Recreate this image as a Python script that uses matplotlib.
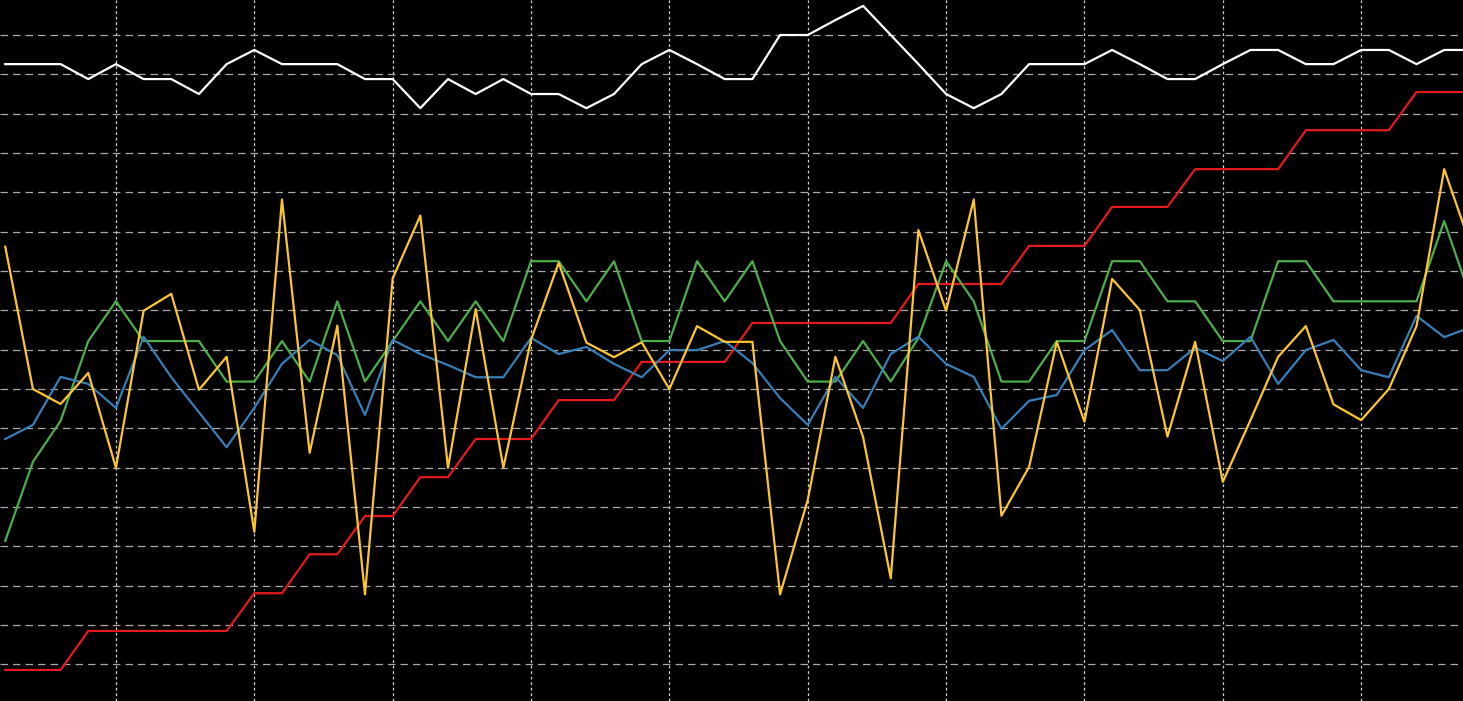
import matplotlib
matplotlib.use("Agg")
import matplotlib.pyplot as plt
import numpy as np

days = list(range(1, 55))

white = [15.26, 15.26, 15.26, 14.88, 15.26, 14.88, 14.88, 14.50, 15.26, 15.62,
         15.26, 15.26, 15.26, 14.88, 14.88, 14.14, 14.88, 14.50, 14.88, 14.50,
         14.50, 14.14, 14.50, 15.26, 15.62, 15.26, 14.88, 14.88, 16.00, 16.00,
         16.38, 16.74, 16.00, 15.26, 14.50, 14.14, 14.50, 15.26, 15.26, 15.26,
         15.62, 15.26, 14.88, 14.88, 15.26, 15.62, 15.62, 15.26, 15.26, 15.62,
         15.62, 15.26, 15.62, 15.62]

red = [-0.14, -0.14, -0.14, 0.85, 0.85, 0.85, 0.85, 0.85, 0.85, 1.81,
       1.81, 2.80, 2.80, 3.77, 3.77, 4.76, 4.76, 5.73, 5.73, 5.73,
       6.72, 6.72, 6.72, 7.69, 7.69, 7.69, 7.69, 8.68, 8.68, 8.68,
       8.68, 8.68, 8.68, 9.67, 9.67, 9.67, 9.67, 10.64, 10.64, 10.64,
       11.63, 11.63, 11.63, 12.59, 12.59, 12.59, 12.59, 13.58, 13.58, 13.58,
       13.58, 14.55, 14.55, 14.55]

green = [3.14, 5.15, 6.19, 8.22, 9.23, 8.22, 8.22, 8.22, 7.19, 7.19,
         8.22, 7.19, 9.23, 7.19, 8.22, 9.23, 8.22, 9.23, 8.22, 10.25,
         10.25, 9.23, 10.25, 8.22, 8.22, 10.25, 9.23, 10.25, 8.22, 7.19,
         7.19, 8.22, 7.19, 8.30, 10.25, 9.23, 7.19, 7.19, 8.22, 8.22,
         10.25, 10.25, 9.23, 9.23, 8.22, 8.22, 10.25, 10.25, 9.23, 9.23,
         9.23, 9.23, 11.27, 9.23]

blue = [5.73, 6.09, 7.31, 7.13, 6.52, 8.33, 7.30, 6.41, 5.52, 6.52,
        7.64, 8.25, 7.86, 6.34, 8.25, 7.89, 7.61, 7.30, 7.30, 8.30,
        7.89, 8.07, 7.64, 7.30, 7.99, 7.99, 8.22, 7.66, 6.77, 6.09,
        7.31, 6.52, 7.89, 8.33, 7.64, 7.31, 5.99, 6.70, 6.85, 7.99,
        8.50, 7.48, 7.48, 8.05, 7.71, 8.33, 7.13, 7.99, 8.25, 7.48,
        7.30, 8.86, 8.32, 8.58]

yellow = [10.62, 7.00, 6.62, 7.41, 5.00, 8.99, 9.42, 6.98, 7.82, 3.37,
          11.82, 5.38, 8.61, 1.78, 9.81, 11.41, 5.00, 9.03, 5.00, 8.25,
          10.21, 8.18, 7.81, 8.19, 7.00, 8.60, 8.20, 8.20, 1.78, 4.18,
          7.82, 5.78, 2.19, 11.04, 8.99, 11.82, 3.78, 5.02, 8.20, 6.17,
          9.80, 9.01, 5.79, 8.20, 4.64, 6.21, 7.82, 8.60, 6.61, 6.21,
          7.00, 8.60, 12.59, 10.56]

x_ticks = [5, 10, 15, 20, 25, 30, 35, 40, 45, 50]
y_ticks = list(range(0, 17))

fig = plt.figure(figsize=(14.63, 7.01), dpi=100, facecolor="black")
ax = fig.add_axes([0, 0, 1, 1])
ax.set_facecolor("black")

lw = 1.6
ax.plot(days, white, color="#ffffff", lw=lw, zorder=3)
ax.plot(days, red, color="#e41a1c", lw=lw, zorder=3)
ax.plot(days, green, color="#4daf4a", lw=lw, zorder=3)
ax.plot(days, blue, color="#377eb8", lw=lw, zorder=3)
ax.plot(days, yellow, color="#fdc52f", lw=lw, zorder=4)

ax.set_xlim(0.81, 53.68)
ax.set_ylim(-0.93, 16.89)
ax.set_xticks(x_ticks)
ax.set_yticks(y_ticks)
ax.xaxis.grid(True, color="#d0d0d0", linestyle=(0, (2.2, 2.2)), linewidth=0.9, zorder=1)
ax.yaxis.grid(True, color="#a8a8a8", linestyle=(0, (6, 4)), linewidth=0.9, zorder=1)
ax.set_axisbelow(True)
ax.tick_params(length=0, labelbottom=False, labelleft=False)
for s in ax.spines.values():
    s.set_visible(False)

fig.savefig("out.png", dpi=100, facecolor="black")
